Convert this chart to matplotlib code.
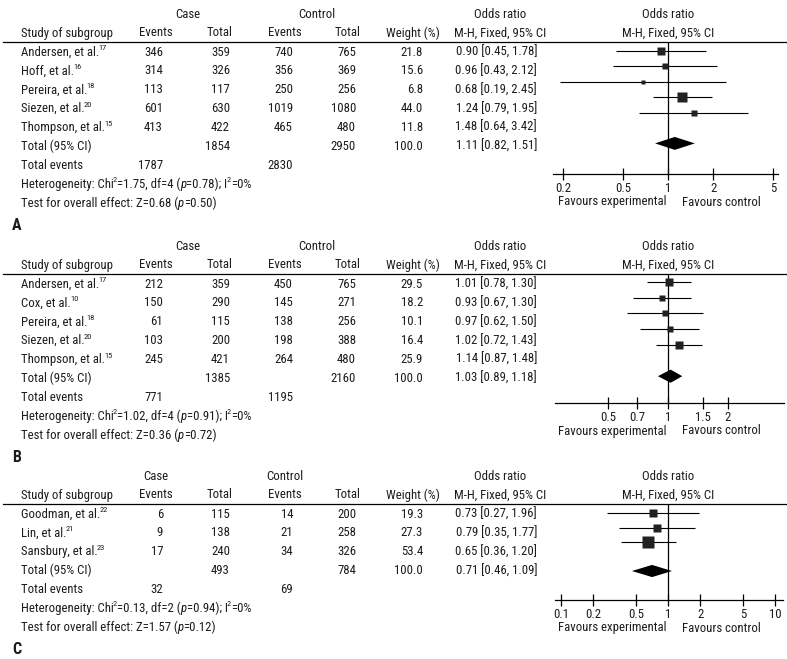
import numpy as np
import matplotlib
matplotlib.use("Agg")
import matplotlib.pyplot as plt
from matplotlib import font_manager
from matplotlib.ticker import NullLocator

# ---- data ----
# panel A
studies_a = ["Andersen, et al.", "Hoff, et al.", "Pereira, et al.", "Siezen, et al.", "Thompson, et al."]
refs_a = ["17", "16", "18", "20", "15"]
case_events_a = [346, 314, 113, 601, 413]
case_total_a = [359, 326, 117, 630, 422]
ctrl_events_a = [740, 356, 250, 1019, 465]
ctrl_total_a = [765, 369, 256, 1080, 480]
weight_a = [21.8, 15.6, 6.8, 44.0, 11.8]
or_a = [0.90, 0.96, 0.68, 1.24, 1.48]
lo_a = [0.45, 0.43, 0.19, 0.79, 0.64]
hi_a = [1.78, 2.12, 2.45, 1.95, 3.42]
pooled_a = [1.11, 0.82, 1.51]
sums_a = [1854, 2950, 100.0]  # case total, control total, weight
events_a = [1787, 2830]       # total events case, control
het_a = ["1.75", "4", "0.78", "0"]
test_a = ["0.68", "0.50"]
ticks_a = [0.2, 0.5, 1, 2, 5]

# panel B
studies_b = ["Andersen, et al.", "Cox, et al.", "Pereira, et al.", "Siezen, et al.", "Thompson, et al."]
refs_b = ["17", "10", "18", "20", "15"]
case_events_b = [212, 150, 61, 103, 245]
case_total_b = [359, 290, 115, 200, 421]
ctrl_events_b = [450, 145, 138, 198, 264]
ctrl_total_b = [765, 271, 256, 388, 480]
weight_b = [29.5, 18.2, 10.1, 16.4, 25.9]
or_b = [1.01, 0.93, 0.97, 1.02, 1.14]
lo_b = [0.78, 0.67, 0.62, 0.72, 0.87]
hi_b = [1.30, 1.30, 1.50, 1.43, 1.48]
pooled_b = [1.03, 0.89, 1.18]
sums_b = [1385, 2160, 100.0]
events_b = [771, 1195]
het_b = ["1.02", "4", "0.91", "0"]
test_b = ["0.36", "0.72"]
ticks_b = [0.5, 0.7, 1, 1.5, 2]

# panel C
studies_c = ["Goodman, et al.", "Lin, et al.", "Sansbury, et al."]
refs_c = ["22", "21", "23"]
case_events_c = [6, 9, 17]
case_total_c = [115, 138, 240]
ctrl_events_c = [14, 21, 34]
ctrl_total_c = [200, 258, 326]
weight_c = [19.3, 27.3, 53.4]
or_c = [0.73, 0.79, 0.65]
lo_c = [0.27, 0.35, 0.36]
hi_c = [1.96, 1.77, 1.20]
pooled_c = [0.71, 0.46, 1.09]
sums_c = [493, 784, 100.0]
events_c = [32, 69]
het_c = ["0.13", "2", "0.94", "0"]
test_c = ["1.57", "0.12"]
ticks_c = [0.1, 0.2, 0.5, 1, 2, 5, 10]

# ---- fonts ----
names = {f.name for f in font_manager.fontManager.ttflist}
FONT = next((f for f in ["Roboto Condensed", "Archivo Narrow", "Liberation Sans Narrow",
                         "Liberation Sans"] if f in names), "DejaVu Sans")
plt.rcParams["font.family"] = [FONT, "DejaVu Sans"]
FS = 9.2
TXT = "#1e1b1c"

W, H = 787, 659
fig = plt.figure(figsize=(W / 100, H / 100), dpi=100)
base = fig.add_axes([0, 0, 1, 1])
base.set_xlim(0, W)
base.set_ylim(H, 0)
base.axis("off")
renderer = fig.canvas.get_renderer()

# column layout in pixels
X_STUDY = 21
HEAD_X = [156, 220, 285, 348, 413, 500]
NUM_R = [163, 230, 293, 356, 423, 537]
ROW_STEP = 18.9


def put(x, y, s, ha="center", **kw):
    base.text(x, y, s, ha=ha, va="center", fontsize=FS, color=TXT, **kw)


def rich(x, y, parts):
    # parts: (text, kind) with kind n = normal, i = italic, s = superscript
    for s, kind in parts:
        kw = dict(fontsize=FS, color=TXT, va="center", ha="left")
        yy = y
        if kind == "i":
            kw["style"] = "italic"
        if kind == "s":
            kw["fontsize"] = FS * 0.66
            yy = y - 4
        t = base.text(x, yy, s, **kw)
        x += t.get_window_extent(renderer).width + (0.3 if kind != "n" else -0.8)


def panel(letter, off, studies, refs, ce, ct, oe, ot, wt, ors, los, his, pooled,
          sums, events, het, test, ticks, forest, split_head=False):
    n = len(studies)
    h1, h2, line_y, r0 = off + 15, off + 33, off + 42, off + 52

    # headers
    if split_head:
        put(HEAD_X[0], h1, "Case")
        put(HEAD_X[2], h1, "Control")
    else:
        put((HEAD_X[0] + HEAD_X[1]) / 2, h1, "Case")
        put((HEAD_X[2] + HEAD_X[3]) / 2, h1, "Control")
    put(HEAD_X[5], h1, "Odds ratio")
    put(X_STUDY, h2, "Study of subgroup", ha="left")
    for x, s in zip(HEAD_X, ["Events", "Total", "Events", "Total", "Weight (%)",
                             "M-H, Fixed, 95% CI"]):
        put(x, h2, s)
    base.plot([3, W], [line_y, line_y], color="black", lw=0.9)

    # study rows
    for i in range(n):
        y = r0 + i * ROW_STEP
        rich(X_STUDY, y, [(studies[i], "n"), (refs[i], "s")])
        vals = [ce[i], ct[i], oe[i], ot[i], f"{wt[i]:.1f}",
                f"{ors[i]:.2f} [{los[i]:.2f}, {his[i]:.2f}]"]
        for x, v in zip(NUM_R, vals):
            put(x, y, str(v), ha="right")
    y = r0 + n * ROW_STEP
    put(X_STUDY, y, "Total (95% CI)", ha="left")
    put(NUM_R[1], y, str(sums[0]), ha="right")
    put(NUM_R[3], y, str(sums[1]), ha="right")
    put(NUM_R[4], y, f"{sums[2]:.1f}", ha="right")
    put(NUM_R[5], y, f"{pooled[0]:.2f} [{pooled[1]:.2f}, {pooled[2]:.2f}]", ha="right")
    y += ROW_STEP
    put(X_STUDY, y, "Total events", ha="left")
    put(NUM_R[0], y, str(events[0]), ha="right")
    put(NUM_R[2], y, str(events[1]), ha="right")
    y += ROW_STEP
    rich(X_STUDY, y, [("Heterogeneity: Chi", "n"), ("2", "s"),
                      (f"={het[0]}, df={het[1]} (", "n"), ("p", "i"),
                      (f"={het[2]}); I", "n"), ("2", "s"), (f"={het[3]}%", "n")])
    y += ROW_STEP
    rich(X_STUDY, y, [(f"Test for overall effect: Z={test[0]} (", "n"), ("p", "i"),
                      (f"={test[1]})", "n")])
    base.text(12, y + 22, letter, ha="left", va="center", fontsize=11.5,
              fontweight="bold", color=TXT)

    # forest plot
    one, ppd, left, right, first, step, axis_y, drow = forest
    top = line_y
    put(one, h1, "Odds ratio")
    put(one, h2, "M-H, Fixed, 95% CI")
    ax = fig.add_axes([left / W, 1 - axis_y / H, (right - left) / W, (axis_y - top) / H])
    ax.set_xscale("log")
    ax.set_xlim(10 ** ((left - one) / ppd), 10 ** ((right - one) / ppd))
    ax.set_ylim((axis_y - first) / step, (top - first) / step)
    ax.patch.set_alpha(0)
    for s in ["left", "right", "top"]:
        ax.spines[s].set_visible(False)
    ax.spines["bottom"].set_linewidth(0.9)
    ax.set_yticks([])
    ax.set_xticks(ticks)
    ax.set_xticklabels([f"{t:g}" for t in ticks])
    ax.xaxis.set_minor_locator(NullLocator())
    ax.tick_params(axis="x", direction="inout", length=8, width=0.9, pad=2,
                   labelsize=FS, labelcolor=TXT)
    ax.axvline(1, color="black", lw=0.9)
    for i in range(n):
        ax.hlines(i, los[i], his[i], color="black", lw=0.8)
        ax.plot(ors[i], i, marker="s", ms=1.15 * np.sqrt(wt[i]), color="#222222",
                mec="none")
    hh = 0.42
    ax.fill([pooled[1], pooled[0], pooled[2], pooled[0]],
            [drow, drow - hh, drow, drow + hh], color="black", lw=0)
    put(one - 2, axis_y + 28, "Favours experimental", ha="right")
    put(one + 14, axis_y + 28, "Favours control", ha="left")


panel("A", 0, studies_a, refs_a, case_events_a, case_total_a, ctrl_events_a,
      ctrl_total_a, weight_a, or_a, lo_a, hi_a, pooled_a, sums_a, events_a,
      het_a, test_a, ticks_a, (668, 150, 553, 778, 51, 15.4, 174, 6))
panel("B", 232, studies_b, refs_b, case_events_b, case_total_b, ctrl_events_b,
      ctrl_total_b, weight_b, or_b, lo_b, hi_b, pooled_b, sums_b, events_b,
      het_b, test_b, ticks_b, (668, 199, 555, 784, 282, 15.7, 403, 6))
panel("C", 462, studies_c, refs_c, case_events_c, case_total_c, ctrl_events_c,
      ctrl_total_c, weight_c, or_c, lo_c, hi_c, pooled_c, sums_c, events_c,
      het_c, test_c, ticks_c, (668, 107, 555, 783, 513, 14.5, 600, 4),
      split_head=True)

fig.savefig("out.png", dpi=100)
